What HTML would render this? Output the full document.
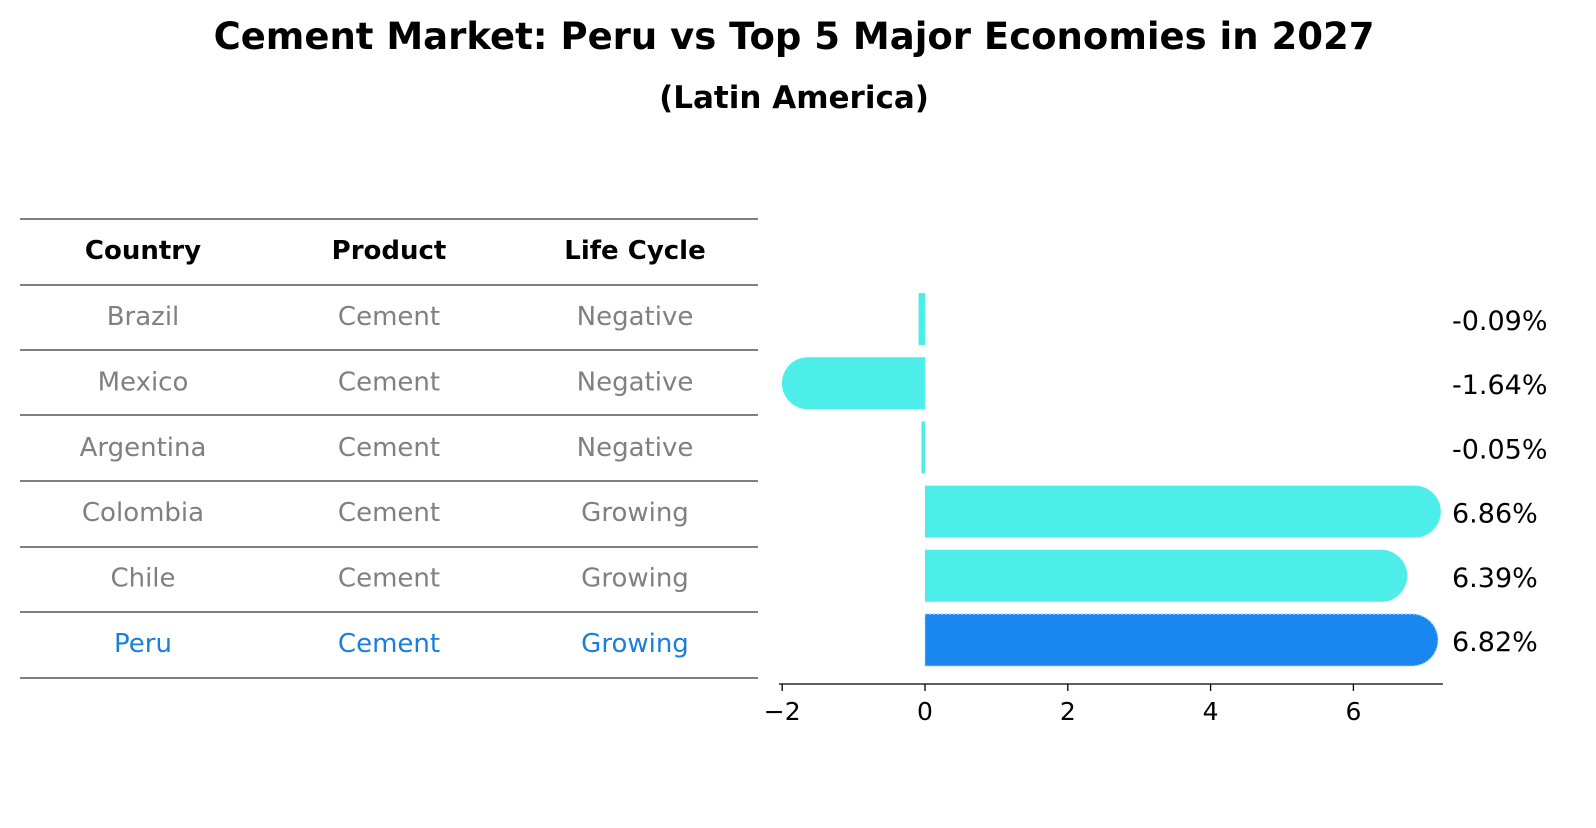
<!DOCTYPE html>
<html><head><meta charset="utf-8"><style>
body{margin:0;background:#fff;font-family:"Liberation Sans","DejaVu Sans",sans-serif;}
svg text{font-family:"DejaVu Sans","Liberation Sans",sans-serif;}
</style></head><body>
<svg id="c" width="1596" height="823" xmlns="http://www.w3.org/2000/svg">
<text x="794" y="49" text-anchor="middle" font-size="37" font-weight="bold">Cement Market: Peru vs Top 5 Major Economies in 2027</text>
<text x="794" y="108" text-anchor="middle" font-size="31" font-weight="bold">(Latin America)</text>
<g id="table"></g>
<g id="bars"></g>
</svg>
<script>
const countries=["Brazil","Mexico","Argentina","Colombia","Chile","Peru"];
const products=["Cement","Cement","Cement","Cement","Cement","Cement"];
const lifeCycles=["Negative","Negative","Negative","Growing","Growing","Growing"];
const values=[-0.09,-1.64,-0.05,6.86,6.39,6.82];
const ticks=[-2,0,2,4,6];
const NS="http://www.w3.org/2000/svg";
function mk(tag,attrs,parent,text){const e=document.createElementNS(NS,tag);for(const k in attrs)e.setAttribute(k,attrs[k]);if(text!==undefined)e.textContent=text;parent.appendChild(e);return e;}
const X=v=>925+v*71.4;
const rowY=i=>316+i*65.4;
const barY=i=>319+i*64.2;
const tb=document.getElementById('table');
const lineYs=[219,285,350,415,481,547,612,678];
lineYs.forEach(y=>{const l=mk('line',{x1:20,x2:758,y1:y,y2:y,stroke:'#000','stroke-width':1},tb);

});
const colX=[143,389,635];
["Country","Product","Life Cycle"].forEach((h,j)=>{const t=mk('text',{x:colX[j],y:259,'text-anchor':'middle','font-size':26,'font-weight':'bold'},tb,h);

});
countries.forEach((c,i)=>{const col=c==="Peru"?"#1a7fd9":"#808080";
[c,products[i],lifeCycles[i]].forEach((v,j)=>{const t=mk('text',{x:colX[j],y:rowY(i)+9,'text-anchor':'middle','font-size':26,fill:col},tb,v);

});});
const bg=document.getElementById('bars');
const h=52,r=26;
values.forEach((v,i)=>{const peru=countries[i]==="Peru";const col=peru?"#1a86f0":"#4dede9";
const y=barY(i);const x0=X(0),x1=X(v);const w=Math.abs(x1-x0);
const g=mk('g',{},bg);


let d;
if(w>15){d=v>0?`M${x0} ${y-r} L${x1} ${y-r} A${r} ${r} 0 0 1 ${x1} ${y+r} L${x0} ${y+r} Z`:`M${x0} ${y-r} L${x1} ${y-r} A${r} ${r} 0 0 0 ${x1} ${y+r} L${x0} ${y+r} Z`;}
else{const a=Math.min(x0,x1),b=a+Math.max(w,3);d=`M${a} ${y-r} L${b} ${y-r} L${b} ${y+r} L${a} ${y+r} Z`;}
mk('path',{d:d,fill:col},g);
if(peru){mk('path',{d:d,fill:'none',stroke:'#9fd0ff','stroke-width':1.2,'stroke-dasharray':'2 2'},g);}
const t=mk('text',{x:1452,y:y+11,'font-size':27},bg,v.toFixed(2)+'%');

});
const ax=mk('line',{x1:779,x2:1443,y1:684,y2:684,stroke:'#000','stroke-width':1.3},bg);


ticks.forEach(t=>{mk('line',{x1:X(t),x2:X(t),y1:684,y2:691,stroke:'#000','stroke-width':1.3},bg);
const tx=mk('text',{x:X(t),y:720,'text-anchor':'middle','font-size':25},bg,t<0?'\u2212'+Math.abs(t):String(t));

});
</script>
</body></html>
